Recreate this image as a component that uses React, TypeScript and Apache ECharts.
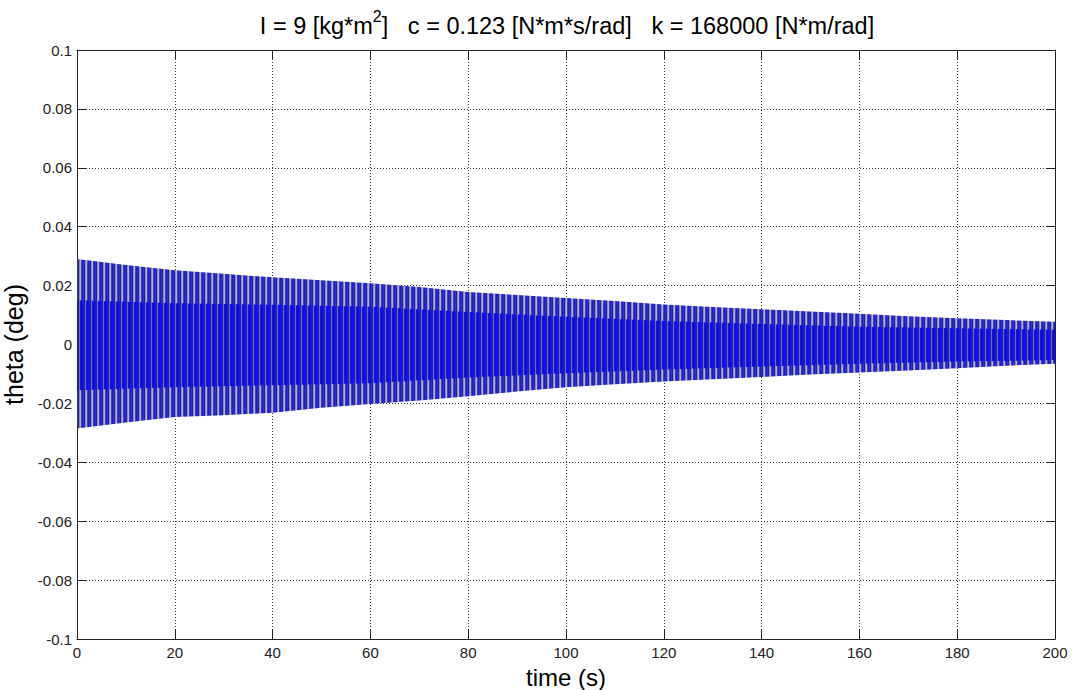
import React, { useEffect, useRef } from "react";
import * as echarts from "echarts";

// Envelope of the oscillation (time in s, theta in deg)
const times = [0, 10, 20, 30, 40, 50, 60, 70, 80, 90, 100, 110, 120, 130, 140, 150, 160, 170, 180, 190, 200];
const upperEnv = [0.029, 0.027, 0.0252, 0.024, 0.0228, 0.0218, 0.0208, 0.0195, 0.0178, 0.0168, 0.0158, 0.0148, 0.0136, 0.0127, 0.012, 0.0112, 0.0104, 0.0096, 0.0089, 0.0083, 0.0077];
const lowerEnv = [-0.0285, -0.0265, -0.0246, -0.024, -0.0232, -0.0215, -0.0202, -0.019, -0.0176, -0.016, -0.0145, -0.0135, -0.0126, -0.0118, -0.011, -0.0102, -0.0095, -0.0088, -0.0081, -0.0072, -0.0065];
// dense (solid blue) core of the band
const coreTimes = [0, 20, 40, 60, 80, 100, 120, 140, 160, 180, 200];
const coreUpper = [0.015, 0.014, 0.0135, 0.0128, 0.011, 0.0094, 0.008, 0.007, 0.006, 0.0055, 0.005];
const coreLower = [-0.0155, -0.0145, -0.0138, -0.0132, -0.0112, -0.0098, -0.0085, -0.0075, -0.0065, -0.0058, -0.0053];

const xTicks = [0, 20, 40, 60, 80, 100, 120, 140, 160, 180, 200];
const yTickLabels = ["-0.1", "-0.08", "-0.06", "-0.04", "-0.02", "0", "0.02", "0.04", "0.06", "0.08", "0.1"];

const FONT = "Liberation Sans, Arial, sans-serif";

function stripePattern(cols: string[]): any {
  const c = document.createElement("canvas");
  c.width = cols.length;
  c.height = 1;
  const ctx = c.getContext("2d")!;
  cols.forEach((col, i) => {
    ctx.fillStyle = col;
    ctx.fillRect(i, 0, 1, 1);
  });
  return { image: c, repeat: "repeat", imageWidth: cols.length, imageHeight: 1 };
}

function bandSeries(ts: number[], up: number[], lo: number[], fill: any, z: number) {
  return {
    type: "custom",
    coordinateSystem: "cartesian2d",
    silent: true,
    z,
    data: [[ts[0], 0]],
    renderItem: (params: any, api: any) => {
      const pts: number[][] = [];
      for (let i = 0; i < ts.length; i++) pts.push(api.coord([ts[i], up[i]]));
      for (let i = ts.length - 1; i >= 0; i--) pts.push(api.coord([ts[i], lo[i]]));
      return { type: "polygon", shape: { points: pts }, style: { fill, stroke: null } };
    },
  };
}

export default function App() {
  const ref = useRef<HTMLDivElement>(null);
  useEffect(() => {
    const chart = echarts.init(ref.current!, undefined, { renderer: "svg" });
    const tickLabelStyle = { color: "#222", fontSize: 15, fontFamily: FONT };
    const split = { show: true, lineStyle: { color: "#333", type: [1, 2], width: 1 } };
    const axisLine = { show: true, onZero: false, lineStyle: { color: "#222", width: 1 } };
    const tick = { show: true, inside: true, length: 9, lineStyle: { color: "#222" } };
    const outerFill = stripePattern(["#26267c", "#8c8cb8", "#b0b0d8", "#4040d4", "#1818de", "#3030d6"]);
    const coreFill = stripePattern(["#24248a", "#6a6ac4", "#1414e4", "#0c0cea", "#1010e6", "#1818e0"]);
    chart.setOption({
      animation: false,
      backgroundColor: "#fff",
      title: {
        text: "{n|I = 9 [kg*m}{s|2}{n|]   c = 0.123 [N*m*s/rad]   k = 168000 [N*m/rad]}",
        left: 562,
        textAlign: "center",
        top: 3,
        textStyle: {
          fontWeight: "normal",
          rich: {
            n: { fontSize: 23.5, fontFamily: FONT, fontWeight: "normal", color: "#000", lineHeight: 30, verticalAlign: "bottom" },
            s: { fontSize: 16, fontFamily: FONT, fontWeight: "normal", color: "#000", lineHeight: 30, verticalAlign: "top" },
          },
        },
      },
      grid: { left: 77, right: 35, top: 50, bottom: 51, containLabel: false, outerBoundsMode: "none" },
      xAxis: [
        {
          type: "value",
          min: 0,
          max: 200,
          interval: 20,
          position: "bottom",
          axisLine,
          axisTick: tick,
          splitLine: split,
          axisLabel: { ...tickLabelStyle, margin: 6, formatter: (v: number) => String(xTicks.find((t) => t === v) ?? v) },
          name: "time (s)",
          nameLocation: "middle",
          nameGap: 21,
          nameTextStyle: { fontSize: 24, fontFamily: FONT, color: "#000", lineHeight: 26 },
        },
        {
          type: "value",
          min: 0,
          max: 200,
          interval: 20,
          position: "top",
          axisLine,
          axisTick: tick,
          splitLine: { show: false },
          axisLabel: { show: false },
        },
      ],
      yAxis: [
        {
          type: "value",
          min: -0.1,
          max: 0.1,
          interval: 0.02,
          position: "left",
          axisLine,
          axisTick: tick,
          splitLine: split,
          axisLabel: {
            ...tickLabelStyle,
            margin: 5,
            formatter: (v: number) => yTickLabels[Math.round((v + 0.1) / 0.02)],
          },
          name: "theta (deg)",
          nameLocation: "middle",
          nameGap: 43,
          nameRotate: 90,
          nameTextStyle: { fontSize: 25, fontFamily: FONT, color: "#000" },
        },
        {
          type: "value",
          min: -0.1,
          max: 0.1,
          interval: 0.02,
          position: "right",
          axisLine,
          axisTick: tick,
          splitLine: { show: false },
          axisLabel: { show: false },
        },
      ],
      series: [
        bandSeries(times, upperEnv, lowerEnv, outerFill, 2),
        bandSeries(coreTimes, coreUpper, coreLower, coreFill, 3),
      ],
    });
    return () => chart.dispose();
  }, []);
  return <div ref={ref} style={{ position: "absolute", left: 0, top: 0, width: 1090, height: 690 }} />;
}
